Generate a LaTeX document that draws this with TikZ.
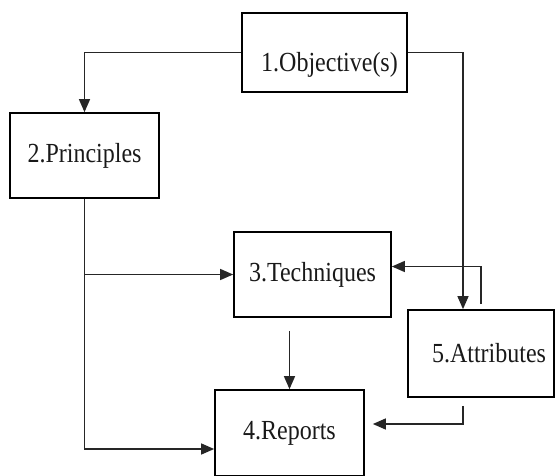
\documentclass[tikz,border=0pt]{standalone}
\usepackage{fontspec}
\setmainfont{Liberation Serif}
\usepackage{tikz}
\usetikzlibrary{arrows.meta, positioning, calc}
\newcommand{\tall}[1]{\scalebox{1}[1.15]{#1}}

\begin{document}
\begin{tikzpicture}[
    x=1pt, y=-1pt,
    block/.style={draw, line width=1.7pt, align=center, inner sep=0pt,
                  font=\fontsize{24}{28}\selectfont, text=black!90},
    arr/.style={-{Triangle[length=13pt, width=11pt]}, line width=1.4pt, black!85}
  ]
    \useasboundingbox (0,0) rectangle (555,475);
    \node[block, minimum width=165pt, minimum height=79pt,
          text height=58pt, text depth=21pt] (obj) at (324.5,52.5)
      {\hspace*{10pt}\tall{1.Objective(s)}};
    \node[block, minimum width=149pt, minimum height=85pt] (prin) at (84.5,155.5)
      {\tall{2.Principles}};
    \node[block, minimum width=157pt, minimum height=85pt] (tech) at (312.5,274.5)
      {\tall{3.Techniques}};
    \node[block, minimum width=149pt, minimum height=86pt] (rep) at (289.5,433)
      {\tall{4.Reports}};
    \node[block, minimum width=146pt, minimum height=87pt] (attr) at (481,353.5)
      {\hspace*{16pt}\tall{5.Attributes}};
    \draw[arr] (obj.west) -| (prin.north);
    \draw[arr] (obj.east) -| ([xshift=-18pt]attr.north);
    \draw[arr] (prin.south) |- (tech.west);
    \draw[arr] (prin.south) |- ([yshift=-16pt]rep.west);
    \draw[arr] ([yshift=-13pt]tech.south -| rep.north) -- (rep.north);
    \draw[arr] ([yshift=5pt]attr.north) |- ([yshift=8pt]tech.east);
    \draw[arr] ([xshift=-18pt,yshift=-8pt]attr.south) |- ([xshift=8pt,yshift=9pt]rep.east);
  \end{tikzpicture}
\end{document}
